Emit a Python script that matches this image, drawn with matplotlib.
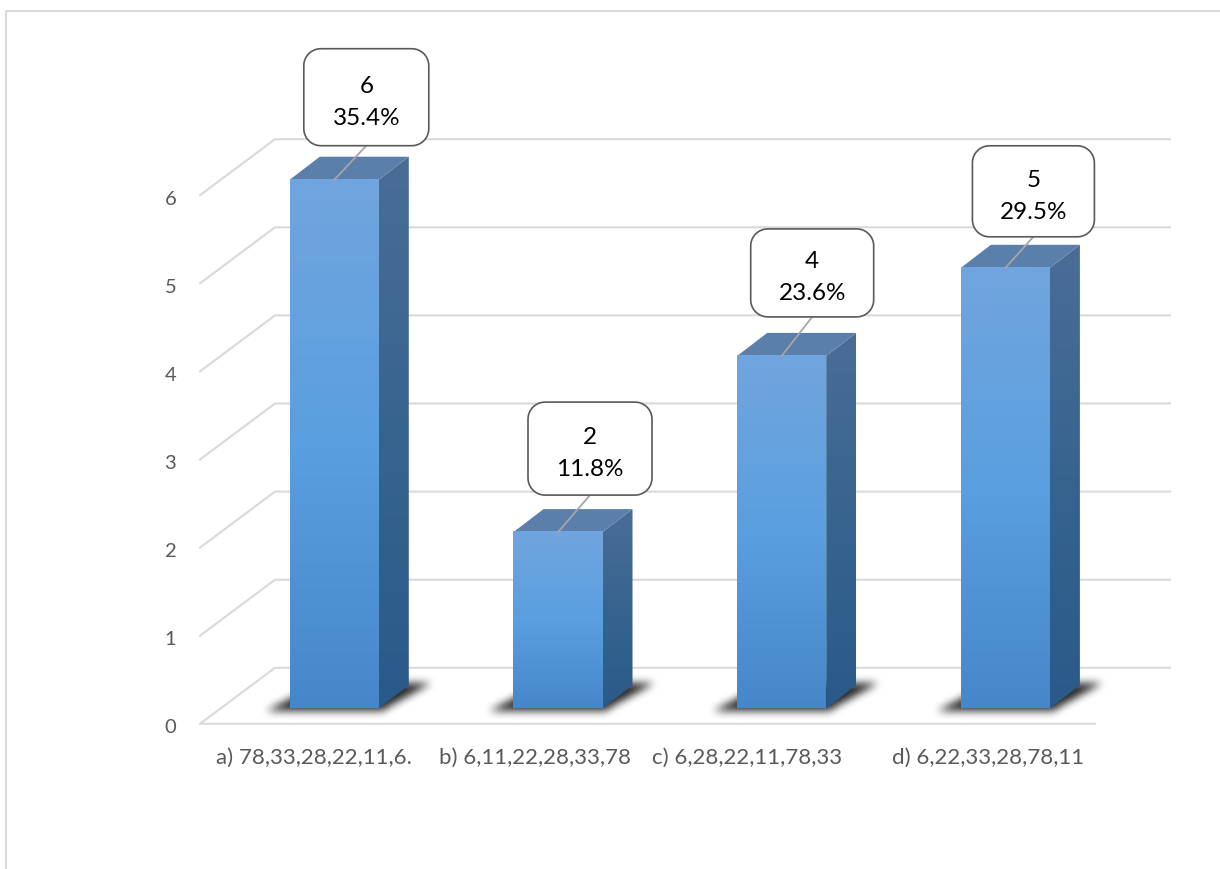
import numpy as np
import matplotlib
matplotlib.use("Agg")
import matplotlib.pyplot as plt
from matplotlib.colors import LinearSegmentedColormap
from matplotlib.patches import Polygon
from matplotlib.path import Path

plt.rcParams["font.family"] = ["Lato", "DejaVu Sans"]

# data
categories = ["a) 78,33,28,22,11,6.", "b) 6,11,22,28,33,78",
              "c) 6,28,22,11,78,33", "d) 6,22,33,28,78,11"]
values = [6, 2, 4, 5]
percents = ["35.4%", "11.8%", "23.6%", "29.5%"]
y_ticks = [0, 1, 2, 3, 4, 5, 6]

# layout, all in pixels of the 1220x869 picture
W, H = 1220, 869
X0, DX = 334.3, 223.7   # first bar centre, bar spacing
Y0, DY = 708.3, 88.1    # bar foot, height of one unit
BAR_W = 89
BAR_DEPTH = (30, 23)
FLOOR_DROP = 15.5
WALL = (75, 56)
GRID_LEFT, GRID_RIGHT, FLOOR_RIGHT = 200, 1170, 1095

callout_dx = [32, 32, 30.5, 28]
callout_rise = [34, 37, 39, 31]
callout_h = [97, 93, 88, 91]
callout_w = [125, 124, 123, 122]
label_dx = [-20.5, -23, -35, -17.5]

fig = plt.figure(figsize=(W / 100, H / 100), dpi=100)
ax = fig.add_axes([0, 0, 1, 1])
xlim = (-X0 / DX, (W - X0) / DX)
ylim = ((Y0 - H) / DY, Y0 / DY)


def ux(px):
    return px / DX


def uy(px):
    return px / DY


def xdata(px):
    return (px - X0) / DX


grid_c = "#d9d9d9"
text_c = "#595959"
lw2 = 1.5

# outer frame, open at the right and the bottom
ax.plot([xdata(6), xdata(6), xlim[1]], [ylim[0], uy(Y0 - 11), uy(Y0 - 11)],
        color=grid_c, lw=lw2, zorder=1)

# back wall and floor lines
floor_y = -uy(FLOOR_DROP)
for t in y_ticks:
    y = t + floor_y
    xs = [xdata(GRID_LEFT), xdata(GRID_LEFT + WALL[0]), xdata(GRID_RIGHT)]
    ys = [y, y + uy(WALL[1]), y + uy(WALL[1])]
    if t == 0:
        xs = [xdata(FLOOR_RIGHT)] + xs
        ys = [y] + ys
    ax.plot(xs, ys, color=grid_c, lw=lw2, zorder=1)
    ax.text(xdata(170.5), y - uy(4), str(t), ha="center", va="center", fontsize=14.5, color=text_c)

front_cm = LinearSegmentedColormap.from_list("front", ["#71a5de", "#5a9fe0", "#4687c9"])
side_cm = LinearSegmentedColormap.from_list("side", ["#4a6d96", "#37648f", "#2a5a8a"])
grad = np.linspace(0, 1, 256).reshape(-1, 1)

half = ux(BAR_W / 2)
dx, dy = ux(BAR_DEPTH[0]), uy(BAR_DEPTH[1])


def blur(a, n=4):
    # three box passes are close enough to a gaussian
    k = np.ones(2 * n + 1) / (2 * n + 1)
    for _ in range(3):
        a = np.apply_along_axis(np.convolve, 0, a, k, mode="same")
        a = np.apply_along_axis(np.convolve, 1, a, k, mode="same")
    return a


for i, v in enumerate(values):
    l, r = i - half, i + half

    # soft shadow under the bar
    shadow = Path([(l - ux(24), -uy(3)), (r + ux(3), -uy(3)), (r + dx + ux(22), dy + uy(2)), (l + dx, dy + uy(2))])
    sx = np.linspace(l - ux(50), r + dx + ux(50), 270)
    sy = np.linspace(-uy(20), dy + uy(20), 70)
    gx, gy = np.meshgrid(sx, sy)
    mask = shadow.contains_points(np.c_[gx.ravel(), gy.ravel()]).reshape(gx.shape).astype(float)
    rgba = np.zeros(mask.shape + (4,))
    rgba[..., 3] = np.clip(blur(mask) * 1.0, 0, 1) * 0.85
    ax.imshow(rgba, extent=(sx[0], sx[-1], sy[0], sy[-1]), origin="lower", aspect="auto",
              interpolation="bilinear", zorder=2)

    # front face
    ax.imshow(grad, extent=(l, r, 0, v), origin="upper", aspect="auto", cmap=front_cm, zorder=4)
    # side face, gradient clipped to the slanted shape
    side = Polygon([(r, 0), (r + dx, dy), (r + dx, v + dy), (r, v)], closed=True,
                   facecolor="none", edgecolor="none", transform=ax.transData)
    ax.add_patch(side)
    im = ax.imshow(grad, extent=(r, r + dx, 0, v + dy), origin="upper", aspect="auto", cmap=side_cm, zorder=3)
    im.set_clip_path(side)
    # top face
    ax.add_patch(Polygon([(l, v), (r, v), (r + dx, v + dy), (l + dx, v + dy)], closed=True,
                         facecolor="#5a7fab", edgecolor="none", zorder=3))

    # callout with its leader
    cx = i + ux(callout_dx[i])
    y_low = v + uy(callout_rise[i])
    bw, bh = ux(callout_w[i]), uy(callout_h[i])
    ax.plot([i, cx], [v, y_low], color="#a6a6a6", lw=1.3, zorder=5)
    t = np.linspace(0, np.pi / 2, 12)
    rx, ry = ux(17), uy(17)
    x1, x2 = cx - bw / 2, cx + bw / 2
    y1, y2 = y_low, y_low + bh
    outline = np.vstack([
        np.c_[x2 - rx + rx * np.sin(t), y1 + ry - ry * np.cos(t)],
        np.c_[x2 - rx + rx * np.cos(t), y2 - ry + ry * np.sin(t)],
        np.c_[x1 + rx - rx * np.sin(t), y2 - ry + ry * np.cos(t)],
        np.c_[x1 + rx - rx * np.cos(t), y1 + ry - ry * np.sin(t)],
    ])
    ax.add_patch(Polygon(outline, closed=True, facecolor="white", edgecolor="#595959", lw=1.2, zorder=6))
    ax.text(cx, y_low + bh / 2 + uy(11), str(v), ha="center", va="center", fontsize=17.5, color="black", zorder=7)
    ax.text(cx, y_low + bh / 2 - uy(21), percents[i], ha="center", va="center", fontsize=17.5, color="black", zorder=7)

    # category label
    ax.text(i + ux(label_dx[i]), floor_y - uy(34), categories[i], ha="center", va="center",
            fontsize=16, color=text_c)

ax.set_xlim(xlim)
ax.set_ylim(ylim)
ax.axis("off")

fig.savefig("out.png", dpi=100, facecolor="white")
